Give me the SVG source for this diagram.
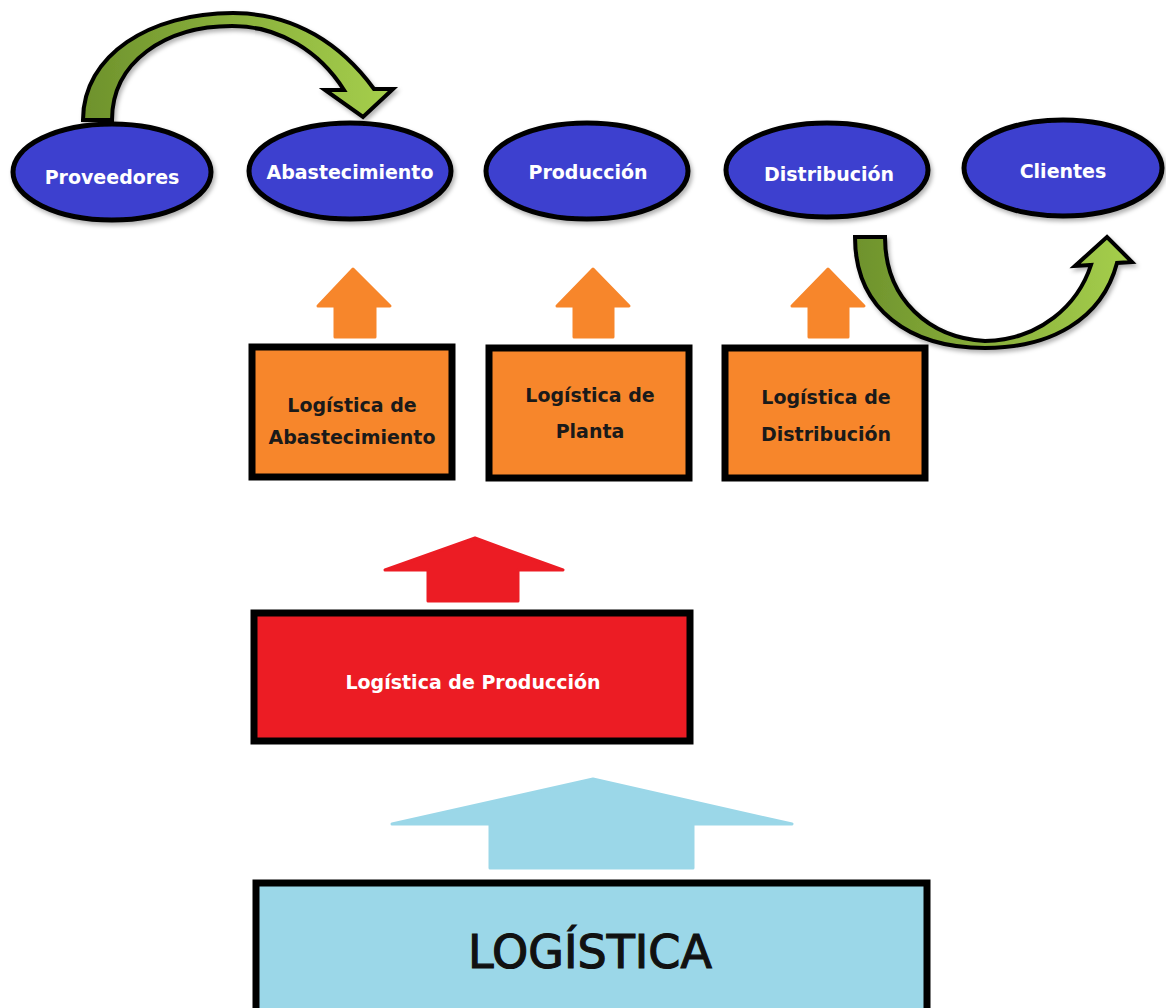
<svg xmlns="http://www.w3.org/2000/svg" width="1166" height="1008" viewBox="0 0 1166 1008">
<defs>
<linearGradient id="g1" x1="0" y1="0" x2="1" y2="0">
<stop offset="0" stop-color="#6e922c"/>
<stop offset="1" stop-color="#a6cf4c"/>
</linearGradient>
<filter id="sh" x="-10%" y="-10%" width="130%" height="130%">
<feDropShadow dx="2" dy="3" stdDeviation="2" flood-color="#000" flood-opacity="0.3"/>
</filter>
<style>
.ell{fill:#3d40cf;stroke:#000;stroke-width:5;filter:url(#sh)}
.et{fill:#fff;font-family:"Comic Sans MS","DejaVu Sans",sans-serif;font-weight:bold;font-size:19px;text-anchor:middle}
.ob{fill:#f7862b;stroke:#000;stroke-width:7}
.ot{fill:#1a1a1a;font-family:"Comic Sans MS","DejaVu Sans",sans-serif;font-weight:bold;font-size:19px;text-anchor:middle}
.oa{fill:#f7862b;stroke:#f7862b;stroke-width:3;stroke-linejoin:round}
.ga{fill:url(#g1);stroke:#000;stroke-width:4;stroke-linejoin:miter;filter:url(#sh)}
</style>
</defs>
<g id="connectors">
<path class="ga" d="M83,120 C83,55 150,13 233,13 C295,13 342,45 374,89 L393,89 L363,117 L325,90 L344,90 C320,52 280,26 232,26 C165,26 112,62 112,120 Z"/>
<path class="ga" d="M855,237 L885,237 C885,300 930,338 985,341 C1040,340 1078,305 1091,265 L1075,266 L1107,237 L1132,262 L1117,263 C1102,320 1050,348 985,348 C910,348 855,310 855,237 Z"/>
<path class="oa" d="M353,269 L390,306 L375,306 L375,337 L335,337 L335,306 L318,306 Z"/>
<path class="oa" d="M593,269 L629,306 L613,306 L613,337 L574,337 L574,306 L557,306 Z"/>
<path class="oa" d="M828,269 L864,306 L848,306 L848,337 L809,337 L809,306 L792,306 Z"/>
<path d="M475,538 L563,570 L518,570 L518,601 L428,601 L428,570 L385,570 Z" fill="#ec1c24" stroke="#ec1c24" stroke-width="3" stroke-linejoin="round"/>
<path d="M593,779 L792,824 L693,824 L693,868 L490,868 L490,824 L392,824 Z" fill="#9bd7e8" stroke="#9bd7e8" stroke-width="3" stroke-linejoin="round"/>
</g>
<g id="n-proveedores">
<ellipse class="ell" cx="112" cy="172" rx="99" ry="48"/>
<text class="et" x="112" y="184">Proveedores</text>
</g>
<g id="n-abastecimiento">
<ellipse class="ell" cx="350" cy="171" rx="101" ry="48"/>
<text class="et" x="350" y="179">Abastecimiento</text>
</g>
<g id="n-produccion">
<ellipse class="ell" cx="587" cy="171" rx="101" ry="48"/>
<text class="et" x="588" y="179">Producción</text>
</g>
<g id="n-distribucion">
<ellipse class="ell" cx="827" cy="170" rx="101" ry="47"/>
<text class="et" x="829" y="181">Distribución</text>
</g>
<g id="n-clientes">
<ellipse class="ell" cx="1063" cy="168" rx="99" ry="48"/>
<text class="et" x="1063" y="178">Clientes</text>
</g>
<g id="n-log-abast">
<rect class="ob" x="252" y="347" width="200" height="130"/>
<text class="ot" x="352" y="412">Logística de</text>
<text class="ot" x="352" y="444">Abastecimiento</text>
</g>
<g id="n-log-planta">
<rect class="ob" x="489" y="348" width="200" height="130"/>
<text class="ot" x="590" y="402">Logística de</text>
<text class="ot" x="590" y="438">Planta</text>
</g>
<g id="n-log-dist">
<rect class="ob" x="725" y="348" width="200" height="130"/>
<text class="ot" x="826" y="404">Logística de</text>
<text class="ot" x="826" y="441">Distribución</text>
</g>
<g id="n-log-prod">
<rect x="254" y="613" width="436" height="128" fill="#ec1c24" stroke="#000" stroke-width="7"/>
<text x="473" y="689" fill="#fff" font-family="'Comic Sans MS','DejaVu Sans',sans-serif" font-weight="bold" font-size="19" text-anchor="middle">Logística de Producción</text>
</g>
<g id="n-logistica">
<rect x="256" y="883" width="671" height="140" fill="#9bd7e8" stroke="#000" stroke-width="7"/>
<text x="590" y="968" fill="#111" stroke="#111" stroke-width="1.2" font-family="'Comic Sans MS','DejaVu Sans',sans-serif" font-size="46" text-anchor="middle">LOGÍSTICA</text>
</g>
</svg>
